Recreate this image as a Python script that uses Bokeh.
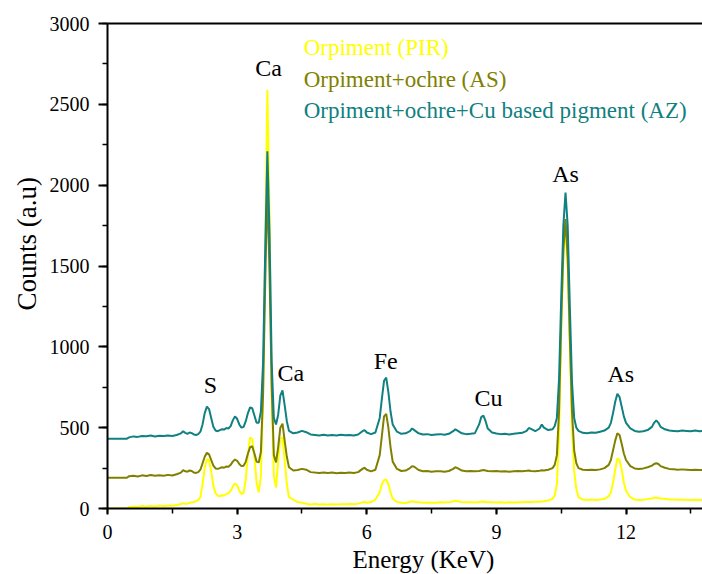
from bokeh.plotting import figure
from bokeh.models import Range1d, LinearAxis, Label, FixedTicker, ColumnDataSource, Title
from bokeh.embed import file_html
from bokeh.resources import INLINE

# ---- data ----
energy = [0.0, 0.45, 0.5, 0.6, 0.7, 0.8, 0.9, 1.0, 1.1, 1.2, 1.3, 1.4, 1.5, 1.6, 1.7, 1.75,
          1.8, 1.85, 1.9, 1.95, 2.0, 2.05, 2.1, 2.15, 2.2, 2.25, 2.3, 2.35, 2.4, 2.45, 2.5,
          2.55, 2.6, 2.65, 2.7, 2.75, 2.8, 2.85, 2.9, 2.95, 3.0, 3.05, 3.1, 3.15, 3.2, 3.25,
          3.3, 3.35, 3.4, 3.45, 3.5, 3.55, 3.6, 3.65, 3.7, 3.75, 3.8, 3.85, 3.9, 3.95, 4.0,
          4.05, 4.1, 4.15, 4.2, 4.3, 4.4, 4.5, 4.6, 4.7, 4.8, 4.9, 5.0, 5.1, 5.2, 5.3, 5.4,
          5.5, 5.6, 5.7, 5.8, 5.9, 5.95, 6.0, 6.1, 6.2, 6.3, 6.35, 6.4, 6.45, 6.5, 6.55, 6.6,
          6.7, 6.8, 6.9, 7.0, 7.05, 7.1, 7.2, 7.3, 7.4, 7.5, 7.6, 7.7, 7.8, 7.9, 8.0, 8.05,
          8.1, 8.2, 8.3, 8.4, 8.5, 8.6, 8.65, 8.7, 8.75, 8.8, 8.9, 9.0, 9.1, 9.2, 9.3, 9.4,
          9.5, 9.6, 9.7, 9.75, 9.8, 9.9, 10.0, 10.05, 10.1, 10.2, 10.3, 10.35, 10.4, 10.45,
          10.5, 10.55, 10.6, 10.65, 10.7, 10.75, 10.8, 10.85, 10.9, 11.0, 11.1, 11.2, 11.3,
          11.4, 11.5, 11.6, 11.65, 11.7, 11.75, 11.8, 11.85, 11.9, 11.95, 12.0, 12.1, 12.2,
          12.3, 12.4, 12.5, 12.6, 12.65, 12.7, 12.75, 12.8, 12.9, 13.0, 13.1, 13.2, 13.3,
          13.4, 13.5, 13.6, 13.7, 13.8]

counts_pir = [0, 0, 8, 12, 10, 15, 12, 16, 13, 18, 15, 19, 17, 22, 28, 32,
              30, 30, 35, 38, 40, 45, 52, 70, 150, 250, 305, 300, 230, 140, 95,
              80, 75, 82, 80, 90, 95, 110, 135, 155, 145, 110, 90, 95, 180, 330,
              440, 430, 320, 160, 100, 200, 700, 1600, 2590, 1800, 700, 200, 130, 300, 430,
              440, 300, 150, 70, 55, 40, 35, 30, 25, 28, 25, 27, 24, 26, 25, 27,
              26, 28, 27, 30, 38, 40, 35, 40, 55, 100, 150, 175, 180, 150, 100, 60,
              40, 35, 34, 40, 45, 42, 38, 35, 37, 35, 36, 38, 37, 38, 45, 48,
              45, 40, 38, 38, 37, 40, 42, 43, 40, 38, 38, 37, 38, 36, 38, 37,
              38, 39, 40, 40, 40, 41, 42, 43, 45, 50, 60, 80, 150, 450,
              1100, 1550, 1740, 1500, 1000, 500, 230, 120, 70, 55, 52, 55, 53,
              55, 60, 75, 100, 160, 240, 310, 300, 240, 160, 110, 70, 55,
              52, 54, 58, 62, 66, 68, 65, 62, 60, 56, 55, 54, 55,
              52, 53, 54, 52, 53]

counts_as = [190, 190, 200, 203, 198, 205, 201, 207, 203, 206, 202, 208, 204, 212, 222, 238,
             230, 228, 235, 232, 222, 220, 225, 240, 280, 320, 345, 335, 300, 265, 248,
             245, 250, 255, 252, 260, 258, 270, 290, 303, 295, 275, 262, 265, 290, 340,
             380, 385, 340, 290, 285, 350, 700, 1400, 1990, 1450, 750, 330, 285, 380, 500,
             525, 420, 320, 255, 235, 238, 245, 240, 225, 222, 220, 223, 220, 222, 218, 221,
             219, 222, 220, 225, 245, 252, 240, 230, 240, 330, 450, 570, 585, 500, 380, 290,
             245, 232, 235, 250, 262, 258, 238, 230, 232, 228, 230, 230, 228, 232, 245, 255,
             250, 235, 230, 232, 230, 232, 235, 238, 235, 232, 230, 232, 229, 231, 228, 230,
             232, 230, 233, 235, 232, 231, 234, 236, 235, 240, 250, 270, 330, 600,
             1150, 1600, 1790, 1550, 1050, 600, 360, 280, 250, 240, 238, 240, 238,
             242, 250, 270, 300, 360, 420, 465, 455, 400, 340, 300, 262, 248,
             245, 248, 255, 265, 275, 280, 275, 262, 252, 245, 243, 240, 242,
             240, 238, 240, 238, 239]

counts_az = [432, 432, 440, 446, 443, 449, 447, 451, 446, 450, 448, 452, 449, 455, 465, 478,
             468, 462, 470, 466, 458, 455, 460, 475, 520, 590, 630, 615, 560, 505, 482,
             478, 485, 490, 488, 498, 495, 510, 545, 570, 555, 520, 500, 505, 540, 590,
             625, 620, 575, 530, 530, 600, 900, 1600, 2210, 1700, 900, 560, 520, 580, 700,
             730, 640, 540, 480, 465, 470, 480, 472, 458, 455, 452, 456, 451, 455, 452, 456,
             453, 455, 452, 458, 478, 485, 470, 460, 470, 560, 680, 790, 810, 720, 600, 520,
             475, 462, 465, 478, 495, 485, 465, 458, 460, 455, 458, 460, 456, 462, 478, 490,
             482, 465, 460, 462, 465, 520, 565, 575, 540, 495, 470, 464, 460, 462, 458, 462,
             465, 468, 480, 498, 492, 478, 495, 520, 500, 485, 490, 510, 560, 800,
             1300, 1750, 1955, 1750, 1250, 780, 560, 500, 480, 468, 465, 470, 468,
             475, 482, 500, 530, 590, 660, 710, 690, 630, 570, 530, 495, 480,
             475, 478, 485, 505, 530, 545, 530, 505, 490, 482, 480, 478, 482,
             480, 478, 482, 478, 480]

series_names = ["Orpiment (PIR)", "Orpiment+ochre (AS)", "Orpiment+ochre+Cu based pigment (AZ)"]
series_colors = ["#FFFF00", "#808000", "#108080"]

peak_labels = ["Ca", "S", "Ca", "Fe", "Cu", "As", "As"]
peak_x = [3.73, 2.38, 4.24, 6.44, 8.82, 10.6, 11.88]
peak_y = [2727, 761, 841, 915, 686, 2072, 835]

x_ticks = [0, 3, 6, 9, 12]
y_ticks = [0, 500, 1000, 1500, 2000, 2500, 3000]
x_title = "Energy (KeV)"
y_title = "Counts (a.u)"

FONT = "Liberation Serif"

p = figure(width=702, height=574, output_backend="svg", toolbar_location=None,
           x_range=Range1d(0, 13.77), y_range=Range1d(0, 3000),
           min_border_left=107, min_border_right=0, min_border_top=23, min_border_bottom=66)
p.outline_line_color = None
p.xgrid.visible = False
p.ygrid.visible = False
p.background_fill_color = "white"
p.border_fill_color = "white"

src = ColumnDataSource(dict(e=energy, pir=counts_pir, az_=counts_az, as_=counts_as))
p.line("e", "pir", source=src, line_color=series_colors[0], line_width=2)
p.line("e", "as_", source=src, line_color=series_colors[1], line_width=2)
p.line("e", "az_", source=src, line_color=series_colors[2], line_width=2)

for ax in (p.xaxis[0], p.yaxis[0]):
    ax.axis_line_width = 2
    ax.axis_line_color = "black"
    ax.major_tick_line_width = 2
    ax.minor_tick_line_width = 1.5
    ax.major_tick_in = 0
    ax.minor_tick_in = 0
    ax.major_label_text_font = FONT
    ax.major_label_text_font_size = "20px"
    ax.major_label_text_color = "black"

p.xaxis[0].ticker = FixedTicker(ticks=x_ticks, minor_ticks=[1.5 * i for i in range(10)])
p.yaxis[0].ticker = FixedTicker(ticks=y_ticks, minor_ticks=[250 * i for i in range(13)])
p.xaxis[0].major_tick_out = 6
p.xaxis[0].minor_tick_out = 5
p.yaxis[0].major_tick_out = 9
p.yaxis[0].minor_tick_out = 5
p.xaxis[0].major_label_standoff = 10
p.yaxis[0].major_label_standoff = 9

top = LinearAxis(ticker=FixedTicker(ticks=[]), major_tick_out=0, minor_tick_out=0,
                 major_label_text_font_size="0px", axis_line_width=2, axis_line_color="black")
p.add_layout(top, "above")

# axis titles as side-panel titles (placed off the frame centre as in the reference)
p.add_layout(Title(text=x_title, align="left", offset=245, standoff=4,
                   text_font=FONT, text_font_size="25px", text_font_style="normal",
                   text_color="black"), "below")
p.add_layout(Title(text=y_title, align="left", offset=198, standoff=10,
                   text_font=FONT, text_font_size="27px", text_font_style="normal",
                   text_color="black"), "left")

# legend as coloured text
leg_y = [2851, 2653, 2461]
for name, col, yy in zip(series_names, series_colors, leg_y):
    p.add_layout(Label(x=4.54, y=yy, text=name, text_color=col, text_font=FONT,
                       text_font_size="23px", text_baseline="middle", text_align="left"))

for t, xx, yy in zip(peak_labels, peak_x, peak_y):
    p.add_layout(Label(x=xx, y=yy, text=t, text_color="black", text_font=FONT,
                       text_font_size="24px", text_baseline="middle", text_align="center"))

open("out.html", "w").write(file_html(p, INLINE))
